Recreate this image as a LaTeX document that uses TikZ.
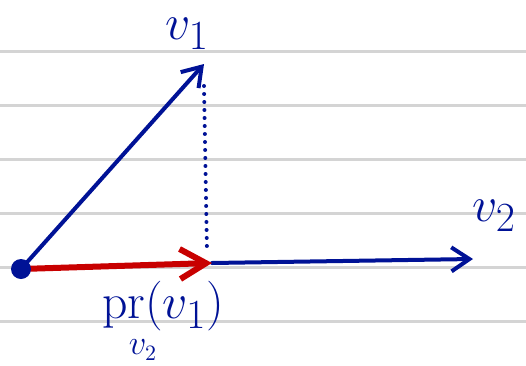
\documentclass[tikz,border=0pt]{standalone}
\usepackage{amsmath}
\usetikzlibrary{arrows.meta}
\definecolor{inkblue}{RGB}{0,18,150}
\definecolor{inkred}{RGB}{200,0,0}

\begin{document}
\begin{tikzpicture}[x=0.5pt, y=-0.5pt, line cap=round,
    bluebarb/.style={-{Straight Barb[length=9pt 0,width=12pt 0]}},
    redbarb/.style={-{Straight Barb[length=13pt 0,width=15pt 0]}},
    label/.style={text=inkblue, inner sep=0pt, font=\fontsize{28}{30}\selectfont}]
    % Parameters
    \def\W{526}
    \def\H{365}

    % Frame of the page
    \useasboundingbox (0,0) rectangle (\W,\H);

    % Ruled paper
    \foreach \y in {51,105,159,213,267,321}
        \draw[black!17, line width=1.5pt] (0,\y) -- (\W,\y);

    % Points
    \coordinate (O) at (21,269);
    \coordinate (V1) at (204,64);
    \coordinate (P) at (212,263);
    \coordinate (V2) at (473,259);
    \coordinate (T) at (204,86);
    \coordinate (F) at (207,252);

    % Vector v1 and its drop line
    \draw[inkblue, line width=2pt, bluebarb] (O) -- (V1);
    \draw[inkblue, line width=2pt, dash pattern=on 0pt off 4pt] (T) -- (F);

    % Vector v2
    \draw[inkblue, line width=2pt, bluebarb] (P) -- (V2);

    % Projection
    \draw[inkred, line width=3pt, redbarb] (O) -- (P);
    \fill[inkblue] (O) circle (5pt);

    % Labels
    \node[label] (lv1) at (187,34) {$v_1$};
    \node[label] (lv2) at (494,216) {$v_2$};
    \node[label, font=\fontsize{30}{32}\selectfont] (lpr) at (163,306) {$\mathrm{pr}(v_1)$};
    \node[label, font=\fontsize{16}{18}\selectfont] (lsub) at (143,350) {$v_2$};
\end{tikzpicture}
\end{document}
